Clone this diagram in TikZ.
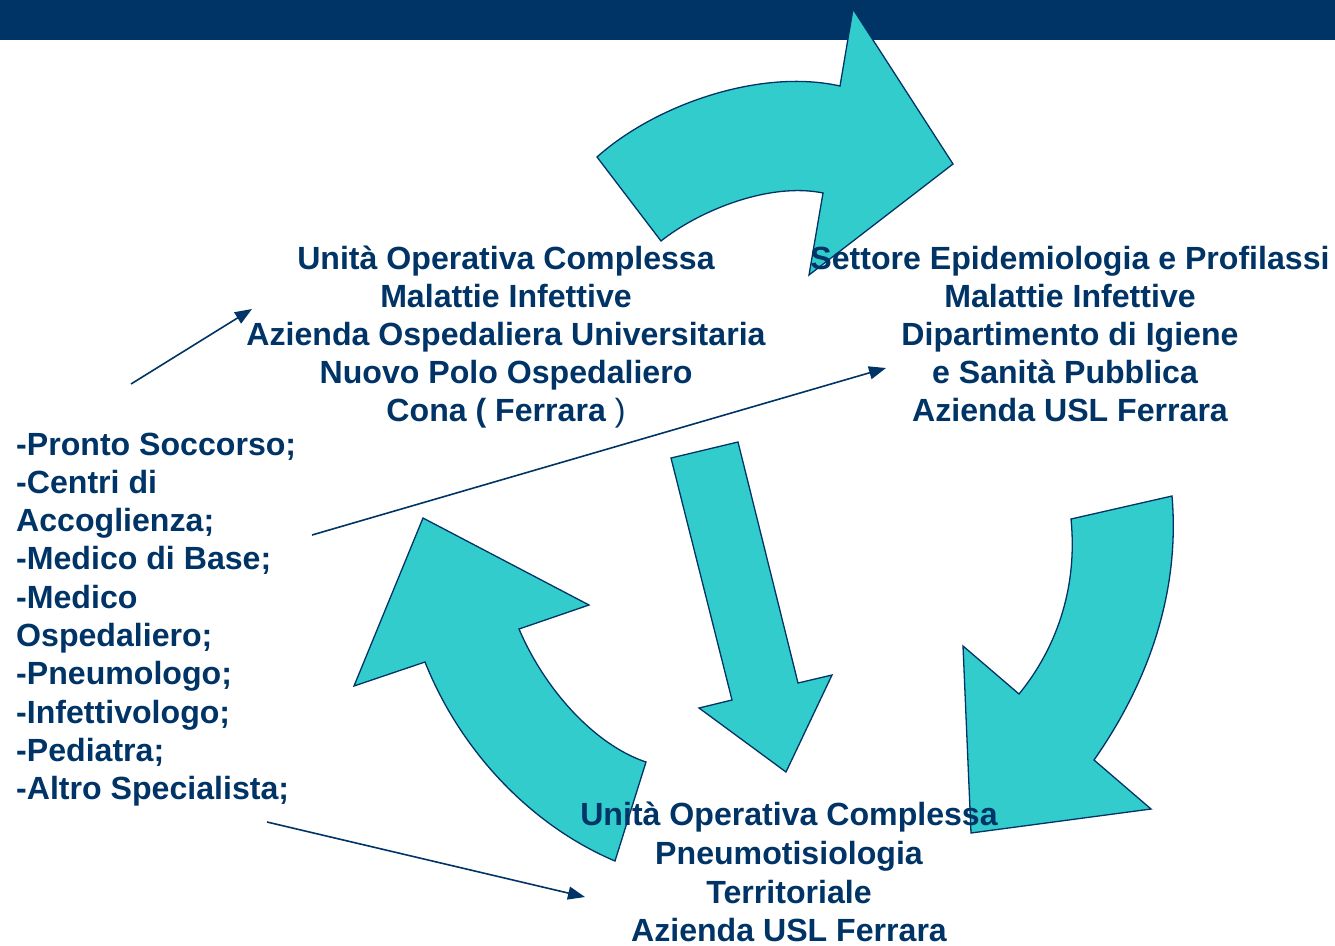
\documentclass[tikz,border=0pt]{standalone}
\usepackage{fontspec}
\setmainfont{Liberation Sans}
\usetikzlibrary{arrows.meta}
\definecolor{navy}{HTML}{003366}
\definecolor{arrowfill}{HTML}{33CCCC}
\begin{document}
\begin{tikzpicture}[x=1pt,y=-1pt,
  bigarrow/.style={fill=arrowfill,draw=navy,line width=1.3pt,line join=miter},
  link/.style={draw=navy,line width=1.6pt,-{Triangle[length=17pt,width=13pt]}},
  txt/.style={text=navy,font=\fontsize{32.1}{38}\selectfont\bfseries,inner sep=0pt,anchor=base},
  ltxt/.style={txt,anchor=base west}]
\useasboundingbox (0,0) rectangle (1335,945);
% top bar
\fill[navy] (0,0) rectangle (1335,40);
% top curved arrow
\path[bigarrow] (597,157) .. controls (655,105) and (760,68) .. (840,86)
  -- (853,9) -- (953,164) -- (809,275) -- (823,193)
  .. controls (770,182) and (700,210) .. (661,241) -- cycle;
% right curved arrow
\path[bigarrow] (1071,519) -- (1172,496) .. controls (1180,590) and (1150,680) .. (1094,760)
  -- (1151,809) -- (971,833) -- (963,646) -- (1019,694)
  .. controls (1055,650) and (1078,590) .. (1071,519) -- cycle;
% left curved arrow
\path[bigarrow] (423,518) -- (589,605) -- (519,629)
  .. controls (545,690) and (595,745) .. (646,762) -- (615,861)
  .. controls (530,825) and (460,750) .. (425,662) -- (354,686) -- cycle;
% straight arrow
\path[bigarrow] (671,458) -- (738,442) -- (798,683) -- (832,675) -- (786,772)
  -- (699,708) -- (732,700) -- cycle;
% thin connectors
\coordinate (s1) at (131,384);
\coordinate (e1) at (252,309);
\coordinate (s2) at (312,535);
\coordinate (e2) at (886,368);
\coordinate (s3) at (267,822);
\coordinate (e3) at (585,897);
\draw[link] (s1) -- (e1);
\draw[link] (s2) -- (e2);
\draw[link] (s3) -- (e3);
% top-left block
\node[txt] (a1) at (506,269) {Unità Operativa Complessa};
\node[txt] (a2) at (506,307.2) {Malattie Infettive};
\node[txt] (a3) at (506,345.4) {Azienda Ospedaliera Universitaria};
\node[txt] (a4) at (506,383.6) {Nuovo Polo Ospedaliero};
\node[txt] (a5) at (506,421.8) {Cona ( Ferrara {\mdseries )}};
% right block
\node[txt] (b1) at (1070,269) {Settore Epidemiologia e Profilassi};
\node[txt] (b2) at (1070,307.2) {Malattie Infettive};
\node[txt] (b3) at (1070,345.4) {Dipartimento di Igiene};
\node[txt] (b4) at (1065,383.6) {e Sanità Pubblica};
\node[txt] (b5) at (1070,421.8) {Azienda USL Ferrara};
% bottom block
\node[txt] (c1) at (789,825) {Unità Operativa Complessa};
\node[txt] (c2) at (789,864) {Pneumotisiologia};
\node[txt] (c3) at (789,903) {Territoriale};
\node[txt] (c4) at (789,941) {Azienda USL Ferrara};
% left list
\node[ltxt] (l1) at (16,455) {-Pronto Soccorso;};
\node[ltxt] (l2) at (16,493.3) {-Centri di};
\node[ltxt] (l3) at (16,531.6) {Accoglienza;};
\node[ltxt] (l4) at (16,569.9) {-Medico di Base;};
\node[ltxt] (l5) at (16,608.2) {-Medico};
\node[ltxt] (l6) at (16,646.5) {Ospedaliero;};
\node[ltxt] (l7) at (16,684.8) {-Pneumologo;};
\node[ltxt] (l8) at (16,723.1) {-Infettivologo;};
\node[ltxt] (l9) at (16,761.4) {-Pediatra;};
\node[ltxt] (l10) at (16,799.7) {-Altro Specialista;};
\end{tikzpicture}
\end{document}
